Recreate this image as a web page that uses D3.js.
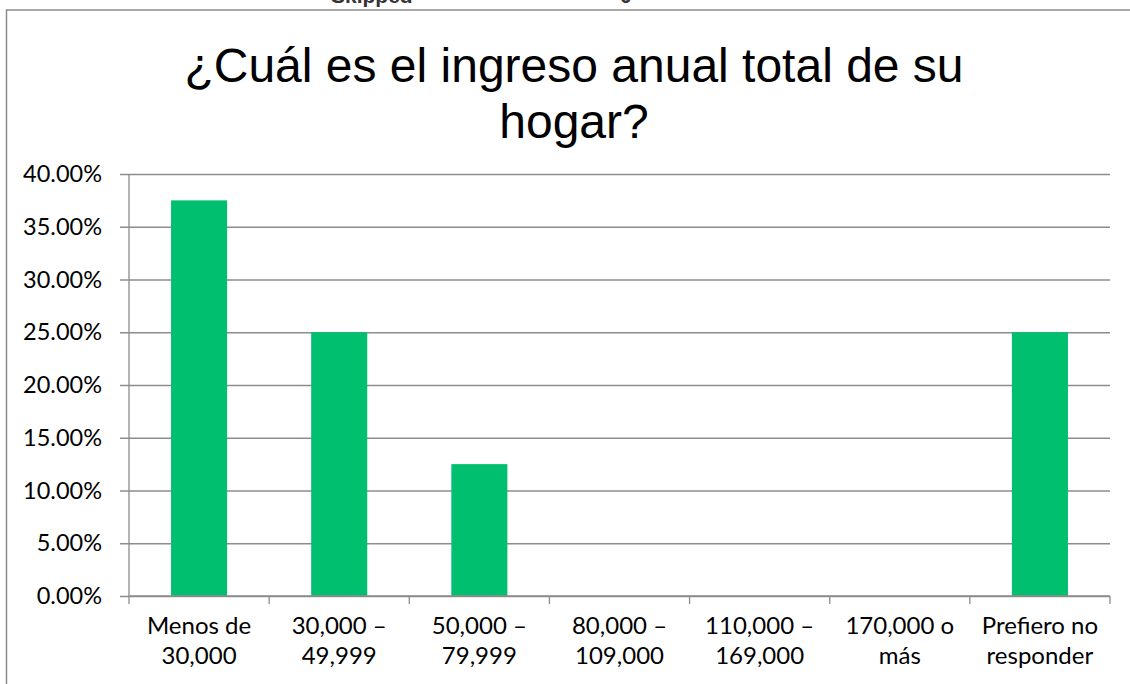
<!DOCTYPE html>
<html>
<head>
<meta charset="utf-8">
<script src="https://cdn.jsdelivr.net/npm/d3@7"></script>
<style>
  html, body { margin: 0; padding: 0; background: #fff; }
  svg { display: block; }
</style>
</head>
<body>
<svg id="chart" width="1130" height="684"></svg>
<script>
// Household income survey question
const titleLines = ["¿Cuál es el ingreso anual total de su", "hogar?"];
const categories = [
  ["Menos de", "30,000"],
  ["30,000 –", "49,999"],
  ["50,000 –", "79,999"],
  ["80,000 –", "109,000"],
  ["110,000 –", "169,000"],
  ["170,000 o", "más"],
  ["Prefiero no", "responder"]
];
const shares = [0.375, 0.25, 0.125, 0, 0, 0, 0.25];
const yTicks = [0, 0.05, 0.10, 0.15, 0.20, 0.25, 0.30, 0.35, 0.40];

const svg = d3.select("#chart");
const W = 1130, H = 684;
const plot = { left: 129, right: 1110, top: 174, bottom: 596 };

const labelFont = "Lato, 'Open Sans', sans-serif";
const gridColor = "#8c8c8c";
const barColor = "#00bf6f";

// Header row of the table above, clipped by the page edge
svg.append("text")
  .attr("x", 331).attr("y", 3)
  .attr("font-family", "'Liberation Sans', Arial, sans-serif")
  .attr("font-weight", "bold").attr("font-size", 21)
  .attr("fill", "#333").text("Skipped");
svg.append("text")
  .attr("x", 620).attr("y", 3)
  .attr("font-family", "'Liberation Sans', Arial, sans-serif")
  .attr("font-weight", "bold").attr("font-size", 21)
  .attr("fill", "#333").text("0");

// Chart frame (top and left edges fall inside the page)
svg.append("rect")
  .attr("x", 6.5).attr("y", 10).attr("width", W + 20).attr("height", H + 20)
  .attr("fill", "#fff").attr("stroke", "#8c8c8c").attr("stroke-width", 1.5);

// Title
const title = svg.append("text")
  .attr("text-anchor", "middle")
  .attr("font-family", "'Liberation Sans', Arial, sans-serif")
  .attr("font-size", 48).attr("fill", "#000");
titleLines.forEach((t, i) => {
  title.append("tspan").attr("x", 574).attr("y", 82 + i * 56).text(t);
});

const x = d3.scaleBand()
  .domain(d3.range(categories.length))
  .range([plot.left, plot.right])
  .padding(0);

const y = d3.scaleLinear()
  .domain([0, 0.40])
  .range([plot.bottom, plot.top]);

// Horizontal gridlines with short outside ticks
svg.append("g")
  .attr("transform", `translate(${plot.left},0)`)
  .call(d3.axisLeft(y)
    .tickValues(yTicks)
    .tickSize(-(plot.right - plot.left))
    .tickFormat(d => (d * 100).toFixed(2) + "%"))
  .call(g => g.select(".domain").remove())
  .call(g => g.selectAll(".tick line")
    .attr("x1", -9)
    .attr("stroke", gridColor).attr("stroke-width", 1.3))
  .call(g => g.selectAll(".tick text")
    .attr("x", -27)
    .attr("font-family", labelFont).attr("font-size", 23.5)
    .attr("fill", "#000"));

// Bars
const barW = x.bandwidth() * 0.4;
svg.append("g").selectAll("rect")
  .data(shares)
  .join("rect")
  .attr("x", (d, i) => x(i) + (x.bandwidth() - barW) / 2)
  .attr("width", barW)
  .attr("y", d => y(d))
  .attr("height", d => y(0) - y(d))
  .attr("fill", barColor);

// Vertical axis line
svg.append("line")
  .attr("x1", plot.left).attr("x2", plot.left)
  .attr("y1", plot.top).attr("y2", plot.bottom)
  .attr("stroke", gridColor).attr("stroke-width", 1.3);

// Category axis with ticks on band boundaries
const bounds = d3.range(categories.length + 1).map(i =>
  i < categories.length ? x(i) : plot.right);
svg.append("line")
  .attr("x1", plot.left).attr("x2", plot.right)
  .attr("y1", plot.bottom).attr("y2", plot.bottom)
  .attr("stroke", gridColor).attr("stroke-width", 1.3);
svg.append("g").selectAll("line")
  .data(bounds)
  .join("line")
  .attr("x1", d => d).attr("x2", d => d)
  .attr("y1", plot.bottom).attr("y2", plot.bottom + 8)
  .attr("stroke", gridColor).attr("stroke-width", 1.3);

const catLabels = svg.append("g")
  .attr("font-family", labelFont).attr("font-size", 24)
  .attr("text-anchor", "middle").attr("fill", "#000");
categories.forEach((lines, i) => {
  const t = catLabels.append("text");
  lines.forEach((ln, j) => {
    t.append("tspan")
      .attr("x", x(i) + x.bandwidth() / 2)
      .attr("y", 634 + j * 30)
      .text(ln);
  });
});
</script>
</body>
</html>
